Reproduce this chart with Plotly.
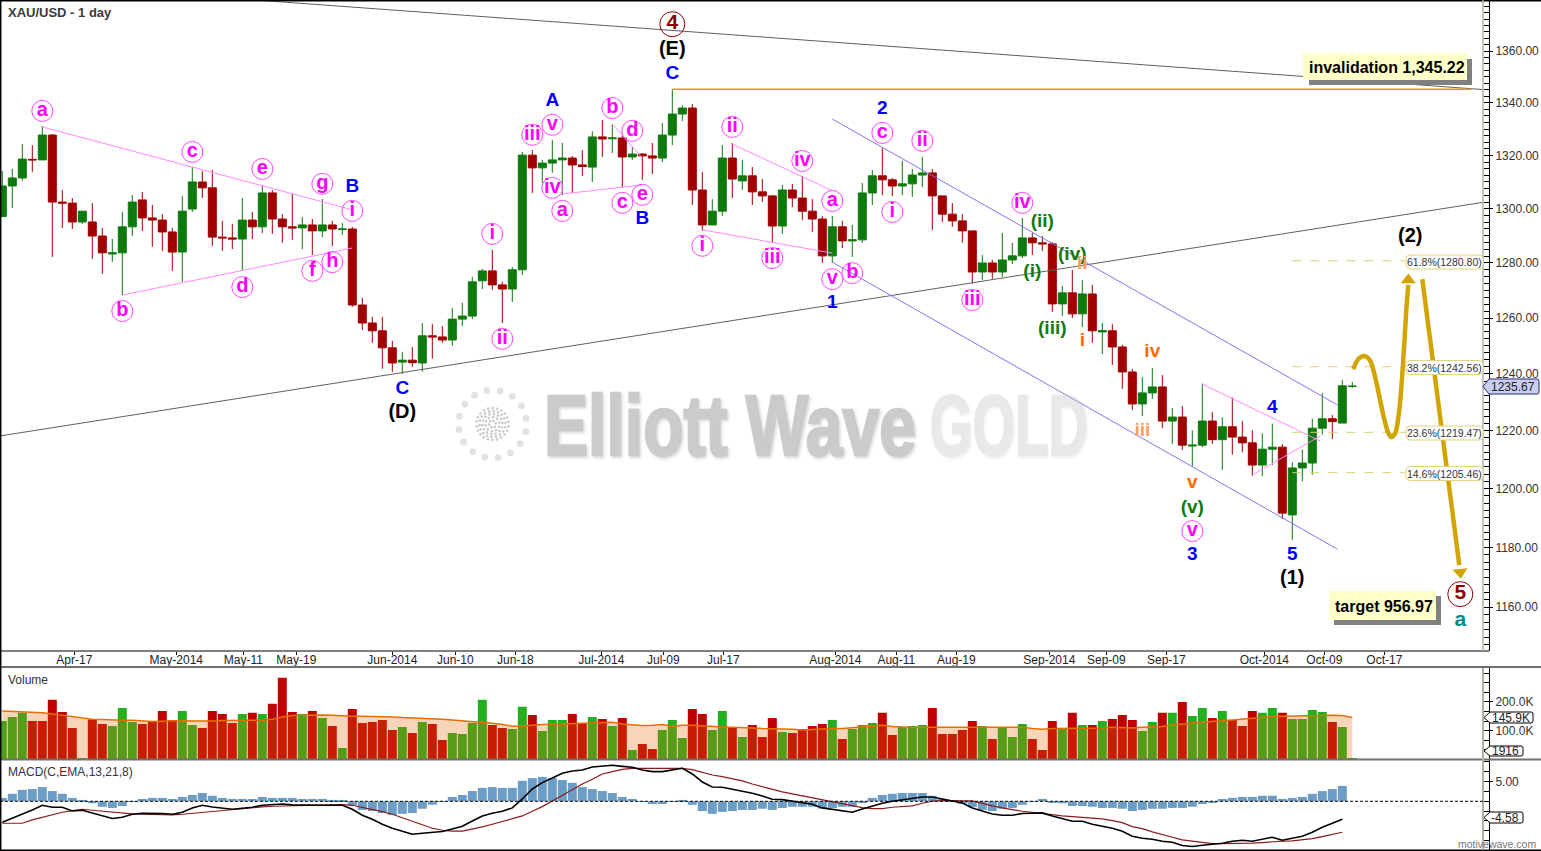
import math
import plotly.graph_objects as go

W, H = 1541, 851

open_ = [1297.1,1308.5,1311.5,1318.5,1318.3,1327.7,1302.5,1302.1,1295.1,1295.1,1289.9,1283.3,1283.7,1293.3,1303.3,1296.6,1295.8,1291.4,1284.0,1299.9,
1310.0,1307.8,1289.5,1289.2,1288.8,1295.8,1293.3,1305.9,1296.2,1293.3,1292.9,1294.0,1291.8,1294.0,1292.3,1292.5,1264.7,1258.2,1255.4,1249.3,
1244.2,1244.9,1243.9,1253.6,1253.2,1252.1,1259.6,1260.7,1273.5,1277.1,1272.0,1270.5,1277.5,1320.1,1315.3,1317.1,1318.3,1319.0,1316.4,1315.6,
1327.0,1326.3,1326.6,1319.4,1320.5,1319.8,1319.0,1327.7,1335.7,1338.0,1307.0,1294.0,1299.1,1319.0,1310.4,1312.3,1306.3,1304.8,1293.6,1307.0,
1304.0,1299.1,1296.2,1282.6,1293.3,1288.1,1288.5,1305.9,1312.3,1310.8,1308.5,1309.3,1312.6,1313.4,1304.8,1298.0,1295.5,1291.8,1276.7,1280.0,
1276.7,1281.1,1282.6,1289.2,1287.4,1287.0,1265.1,1269.1,1261.5,1268.7,1255.0,1255.4,1249.6,1240.7,1229.4,1233.3,1235.4,1223.4,1224.8,1214.7,
1215.0,1223.4,1216.9,1221.4,1217.8,1215.8,1208.1,1213.6,1214.3,1191.0,1207.1,1208.8,1220.9,1224.2,1222.7,1235.6]
high = [1314.1,1314.9,1324.3,1323.9,1331.1,1328.1,1307.0,1304.0,1299.1,1302.1,1292.9,1288.8,1298.8,1305.1,1306.3,1301.4,1298.0,1292.9,1304.8,1315.6,
1314.1,1314.5,1295.5,1294.4,1304.0,1298.8,1308.9,1307.0,1298.0,1305.5,1296.9,1296.2,1303.6,1295.5,1294.7,1293.3,1267.3,1260.4,1260.4,1251.8,
1247.9,1249.6,1258.2,1257.9,1257.1,1263.6,1265.5,1274.9,1277.8,1284.8,1273.1,1278.5,1321.3,1322.0,1318.3,1325.8,1324.7,1319.8,1322.0,1329.2,
1333.4,1331.9,1327.3,1323.2,1320.9,1324.7,1332.3,1345.22,1339.1,1339.5,1313.8,1303.6,1323.9,1324.7,1318.3,1315.6,1311.1,1305.1,1308.9,1309.3,
1312.3,1303.6,1297.3,1297.3,1295.5,1294.0,1309.6,1314.5,1322.8,1311.5,1317.9,1314.9,1319.4,1314.9,1304.8,1302.1,1298.0,1291.8,1282.9,1281.1,
1291.0,1287.4,1296.6,1291.0,1289.9,1287.7,1271.6,1277.4,1273.8,1272.0,1258.2,1257.9,1250.4,1241.8,1238.9,1242.1,1239.6,1228.0,1228.7,1220.2,
1236.6,1226.5,1224.7,1231.7,1223.4,1220.2,1219.1,1222.5,1215.4,1209.1,1213.5,1224.2,1233.2,1225.5,1237.9,1237.2]
low = [1297.1,1300.3,1310.4,1313.8,1318.3,1282.2,1292.9,1292.5,1294.4,1281.5,1276.0,1280.4,1268.2,1289.9,1291.8,1285.9,1284.4,1277.1,1273.1,1298.8,
1304.0,1286.2,1284.4,1285.1,1277.2,1288.8,1291.0,1290.7,1287.4,1288.5,1285.1,1282.9,1289.5,1286.2,1290.3,1264.0,1255.7,1251.1,1241.8,1240.7,
1240.0,1242.5,1240.8,1245.4,1251.1,1250.0,1257.1,1259.6,1270.5,1270.2,1258.2,1265.8,1275.6,1305.9,1309.6,1313.4,1305.1,1305.8,1312.3,1310.0,
1319.4,1320.9,1308.1,1318.3,1310.8,1313.0,1317.5,1323.9,1333.0,1301.4,1291.8,1294.0,1297.3,1304.0,1307.0,1301.4,1302.5,1287.4,1290.7,1300.6,
1295.8,1291.4,1280.0,1280.0,1285.5,1282.2,1287.4,1301.4,1305.1,1304.8,1305.1,1304.4,1308.1,1292.1,1295.1,1293.3,1287.4,1272.4,1273.8,1274.2,
1274.9,1279.6,1281.8,1282.9,1284.4,1262.2,1260.7,1260.0,1256.8,1251.1,1247.1,1243.2,1234.7,1227.3,1225.2,1231.2,1220.9,1215.4,1213.3,1207.8,
1214.3,1215.4,1206.4,1211.7,1212.5,1204.4,1204.3,1208.1,1189.6,1182.5,1202.5,1204.8,1218.7,1217.1,1222.7,1235.1]
close = [1308.5,1311.5,1318.6,1318.3,1327.7,1302.5,1302.1,1295.1,1299.1,1289.9,1283.7,1283.7,1293.3,1302.5,1296.6,1295.8,1291.4,1284.0,1299.1,1310.0,
1307.8,1289.5,1289.2,1288.8,1295.8,1293.3,1305.9,1296.2,1293.3,1292.9,1294.0,1291.8,1294.0,1292.5,1292.5,1264.7,1258.2,1255.4,1249.3,1243.9,
1244.9,1244.0,1253.6,1253.2,1252.1,1259.6,1260.7,1273.1,1277.1,1272.0,1270.5,1277.5,1320.1,1315.3,1317.1,1318.3,1319.0,1316.4,1315.8,1327.0,
1326.2,1326.6,1319.4,1320.5,1319.8,1319.0,1327.7,1335.7,1338.0,1307.0,1294.0,1299.1,1319.0,1311.1,1312.3,1306.3,1304.8,1293.6,1307.0,1304.0,
1299.1,1296.2,1282.6,1293.3,1288.1,1288.5,1305.9,1312.3,1310.8,1308.5,1309.3,1312.6,1313.4,1304.8,1298.0,1295.5,1291.8,1276.7,1280.0,1276.7,
1281.1,1282.6,1289.2,1287.4,1287.0,1265.1,1269.1,1261.5,1268.7,1255.4,1255.4,1249.6,1240.7,1229.4,1233.3,1235.4,1223.4,1224.8,1215.0,1215.0,
1223.4,1216.9,1221.4,1217.8,1215.8,1208.1,1213.6,1214.3,1191.6,1207.1,1208.8,1220.9,1224.2,1223.2,1235.8,1235.67]

volume_k = [133.7,147.7,161.7,133.7,133.7,207.0,165.1,109.3,4.7,138.4,123.3,116.3,179.1,130.3,123.3,131.4,168.6,137.2,168.6,119.8,
109.3,168.6,158.2,126.8,158.2,161.7,158.2,193.1,283.8,165.1,158.2,168.6,144.2,116.3,39.5,175.6,126.8,130.3,137.2,102.3,
112.8,91.9,130.3,123.3,67.5,91.9,88.4,126.8,207.0,119.8,109.3,105.8,182.6,154.7,98.9,137.2,137.2,158.2,126.8,147.7,
140.7,116.3,144.2,32.6,53.5,36.1,102.3,137.2,74.4,175.6,158.2,102.3,168.6,112.8,77.9,119.8,77.9,144.2,95.4,91.9,
105.8,116.3,123.3,137.2,70.9,105.8,119.8,126.8,161.7,84.9,112.8,116.3,119.8,179.1,88.4,88.4,102.3,133.7,116.3,70.9,
112.8,77.9,123.3,70.9,32.6,133.7,105.8,161.7,119.8,119.8,133.7,140.7,154.7,137.2,98.9,130.3,161.7,161.7,200.0,151.2,
179.1,144.2,168.6,137.2,116.3,168.6,161.7,179.1,161.7,140.7,140.7,172.1,165.1,130.3,112.8,1.9]
volume_up = "GGGRRRRRGRRGGGRRRRGGRRRRGRGRRRGRGRGRRRRRGRGRRGGGGRRGGRGGGRRGRGRGRRGGGRRGGRGRRRGRRRRGRGGGRRGGGRRRRRGRGGGRRRGRGRGRRRGGRGRGGRGRRRGGRGGGGRGG"
volume_ma_k = [168.6,167.5,165.1,164.0,161.7,158.2,153.5,148.9,144.2,139.6,138.4,136.1,136.1,136.1,133.7,131.4,132.6,134.9,134.9,133.7,
132.6,133.7,134.9,134.9,134.9,134.9,136.1,139.6,147.7,152.4,153.5,154.7,154.7,153.5,151.2,150.0,150.0,150.0,148.9,147.7,
145.4,144.2,144.2,143.0,139.6,137.2,134.9,132.6,129.1,125.6,121.0,115.1,116.3,119.8,121.0,122.1,123.3,123.3,125.6,126.8,
127.9,129.1,123.3,119.8,117.5,118.6,121.0,115.1,118.6,118.6,117.5,115.1,112.8,111.6,111.6,109.3,107.0,107.0,107.0,104.7,
102.3,104.7,107.0,107.0,107.0,109.3,114.0,116.3,118.6,114.0,111.6,110.5,111.6,111.6,111.6,111.6,111.6,111.6,111.6,111.6,
111.6,111.6,111.6,107.0,104.7,107.0,107.0,107.0,107.0,107.0,109.3,111.6,110.5,109.3,111.6,111.6,114.0,119.8,123.3,125.6,
129.1,132.6,134.9,137.2,140.7,144.2,146.5,148.9,150.0,151.2,151.2,152.4,152.4,153.5,152.4,145.9]

macd_hist = [0.85,1.9,2.9,3.1,3.6,2.6,1.9,0.85,0.34,-0.5,-1.4,-1.7,-1.2,0.03,0.6,0.85,0.85,0.6,1.1,1.6,
2.1,1.4,0.85,0.6,0.6,0.6,1.1,0.85,0.85,0.85,0.6,0.6,0.6,0.34,0.34,-1.0,-2.2,-2.5,-3.0,-3.5,
-3.2,-3.0,-1.9,-0.9,0.03,1.1,1.6,2.6,3.4,3.6,3.4,3.4,5.2,5.9,6.2,5.9,5.4,4.7,3.6,3.1,
2.6,2.1,1.1,0.6,0.03,-0.7,-0.7,0.03,0.34,-0.9,-2.5,-3.2,-2.7,-2.5,-2.2,-2.2,-1.9,-2.2,-1.7,-1.4,
-1.4,-1.4,-1.9,-1.7,-1.4,-1.4,-0.25,0.85,1.6,1.9,2.1,2.1,2.1,1.4,0.6,0.03,-0.7,-1.5,-2.2,-2.5,
-1.9,-1.7,-0.9,0.03,0.6,-0.25,-0.5,-1.2,-1.2,-1.4,-1.7,-1.7,-1.9,-2.5,-2.2,-1.9,-1.9,-1.7,-1.7,-1.4,
-0.7,-0.25,0.6,0.85,1.1,1.1,1.4,1.4,0.6,0.85,1.1,1.9,2.6,3.1,3.9]
macd_line = [-5.34,-4.32,-3.30,-2.20,-1.02,-1.52,-1.52,-2.46,-2.29,-2.96,-3.73,-4.40,-4.07,-3.30,-3.05,-3.05,-3.13,-3.30,-2.80,-1.69,
-1.02,-1.44,-1.78,-2.03,-1.78,-1.52,-1.02,-0.76,-0.68,-0.93,-1.02,-1.02,-1.02,-1.02,-1.02,-2.03,-3.56,-4.57,-5.84,-6.86,
-7.62,-8.39,-8.13,-7.96,-7.71,-7.03,-6.35,-5.00,-3.73,-3.05,-2.54,-1.69,0.59,3.13,4.74,5.93,7.11,7.71,7.96,8.72,
8.98,9.15,8.89,8.64,7.96,7.54,7.54,8.05,8.39,6.95,4.91,3.64,3.56,3.05,2.63,2.03,1.36,0.51,0.42,0.08,
-0.42,-0.76,-1.69,-2.03,-2.46,-2.80,-1.95,-1.19,-0.51,0.0,0.34,0.68,1.10,1.10,0.59,0.08,-0.42,-1.69,-2.46,-3.22,
-3.56,-3.56,-3.13,-2.96,-2.96,-3.73,-4.32,-5.08,-5.08,-5.84,-6.35,-6.86,-7.62,-8.89,-9.40,-9.66,-10.16,-10.42,-11.27,-11.52,
-11.18,-10.93,-10.67,-10.16,-9.91,-10.16,-9.66,-9.15,-9.91,-9.40,-8.89,-7.88,-6.61,-5.59,-4.58]
macd_signal = [-5.59,-5.59,-5.59,-4.74,-4.07,-3.47,-2.80,-2.37,-2.03,-2.29,-2.54,-2.80,-3.05,-3.22,-3.30,-3.39,-3.47,-3.47,-3.30,-3.05,
-2.80,-2.54,-2.29,-2.03,-1.86,-1.61,-1.44,-1.27,-1.19,-1.19,-1.10,-1.02,-1.02,-0.93,-0.85,-1.02,-1.52,-2.03,-2.63,-3.30,
-4.15,-5.00,-6.01,-6.86,-7.37,-7.62,-7.62,-7.11,-6.52,-5.84,-5.17,-4.49,-3.73,-2.54,-1.36,0.08,1.52,3.05,4.40,5.59,
6.95,7.54,8.13,8.39,8.47,8.39,8.39,8.39,8.39,8.05,7.37,6.69,6.27,5.76,5.17,4.40,3.73,2.96,2.37,1.86,
1.36,0.85,0.34,-0.17,-0.68,-1.19,-1.61,-1.86,-1.86,-1.52,-1.36,-1.19,-0.51,0.0,0.25,0.08,0.08,0.08,-0.59,-1.19,
-1.69,-2.20,-2.54,-2.80,-3.13,-3.47,-3.73,-3.90,-4.07,-4.32,-4.49,-4.91,-5.42,-6.44,-6.95,-7.79,-8.39,-9.15,-9.83,-10.16,
-10.50,-10.76,-10.76,-10.76,-10.76,-10.67,-10.50,-10.25,-10.16,-10.08,-9.83,-9.49,-8.98,-8.47,-7.88]

date_ticks = ["Apr-17","May-2014","May-11","May-19","Jun-2014","Jun-10","Jun-18","Jul-2014","Jul-09","Jul-17","Aug-2014","Aug-11","Aug-19","Sep-2014","Sep-09","Sep-17","Oct-2014","Oct-09","Oct-17"]
date_tick_pos = [7.2,17.4,24.1,29.4,39.0,45.3,51.3,59.9,66.1,72.1,83.3,89.4,95.4,104.7,110.4,116.4,126.2,132.2,138.2]

bars = list(range(len(open_)))
assert all(len(a) == 136 for a in (open_, high, low, close, volume_k, volume_ma_k))
assert len(volume_up) == 136, len(volume_up)
assert all(len(a) == 135 for a in (macd_hist, macd_line, macd_signal))

# wave labels: text, bar, price
circled_labels = [("a",4,1336.9),("c",19,1321.3),("e",26,1314.9),("g",32,1309.3),("i",35,1299.2),("b",12,1262.5),("d",24,1271.2),("f",31,1277.1),("h",33,1280.3),
("i",49,1290.7),("ii",50,1252.5),("iii",53,1327.8),("v",55,1331.6),("iv",55,1307.8),("a",56,1299.2),("b",61,1338.0),("d",63,1329.3),("c",62,1302.2),("e",64,1305.2),
("ii",73,1330.8),("i",70,1286.3),("iii",77,1281.8),("iv",80,1317.9),("a",83,1302.9),("v",83,1274.1),("b",85,1276.3),("c",88,1328.5),("ii",92,1325.5),("i",89,1298.8),
("iii",97,1266.5),("iv",102,1302.2),("v",119,1185.5)]
blue_labels = [("B",35,1308.2),("C",40,1234.7),("A",55,1340.7),("B",64,1296.2),("C",67,1351.1),("1",83,1265.4),("2",88,1337.6),("3",119,1177.4),("4",127,1228.0),("5",129,1177.4)]
black_labels = [("(D)",40,1226.2),("(E)",67,1360.4),("(1)",129,1169.5),("(2)",140.8,1289.6)]
green_labels = [("(ii)",104,1295.1),("(i)",103,1276.7),("(iv)",107,1282.9),("(iii)",105,1256.0),("(v)",119,1193.3)]
orange_labels = [("i",108,1251.8),("iv",115,1247.8),("v",119,1201.9)]
pale_orange_labels = [("ii",108,1279.6),("iii",114,1219.9)]
major_labels = [("4",67,1370.5),("5",145.8,1164.3)]

# trend lines: start bar, start price, end bar, end price
gray_lines = [(25.3,1380.0,148.07,1345.1),(-0.23,1218.2,148.07,1302.4)]
pink_lines = [(4,1330.8,35,1299.6),(12,1268.3,35,1285.5),(61,1331.9,64,1319.0),(56,1305.5,64,1308.9),
(73,1324.3,83,1306.7),(70,1292.2,83,1283.6),(120,1236.4,131.8,1216.4),(125,1204.7,131.8,1218.2)]
blue_lines = [(83,1333.8,133.5,1229.1),(83,1280.3,133.5,1179.4)]
invalidation_price = 1345.22
fib_levels = [("61.8%",1280.80),("38.2%",1242.56),("23.6%",1219.47),("14.6%",1205.46)]

# forecast path
wave_bars = [135.1,135.6,136.2,136.8,137.4,138.1,138.6,138.9,139.3,139.7,140.1,140.4,140.6]
wave_prices = [1241.7,1245.3,1246.4,1244.6,1237.1,1225.5,1219.2,1217.8,1219.2,1227.3,1245.0,1262.9,1272.0]
drop_bars = [142.0,145.7]
drop_prices = [1274.1,1174.0]

GREEN, RED = "#0e7a0e", "#a00000"
GOLD = "#d2a400"
FONT = "Liberation Sans"
PLOT_R = 1483
AX_X = 1489

def px(x): return x / W
def py(y): return 1 - y / H

fig = go.Figure()

def seg(lines, color, width=1, dash=None):
    for x0, p0, x1, p1 in lines:
        fig.add_trace(go.Scatter(x=[x0, x1], y=[p0, p1], mode="lines", hoverinfo="skip",
                                 line=dict(color=color, width=width, dash=dash), xaxis="x", yaxis="y"))

seg(gray_lines, "#606060", 1)
seg(blue_lines, "#7a7af0", 1)
seg(pink_lines, "#ff88ff", 1)

fig.add_trace(go.Candlestick(x=bars, open=open_, high=high, low=low, close=close, whiskerwidth=0,
    increasing=dict(line=dict(color=GREEN, width=1), fillcolor=GREEN),
    decreasing=dict(line=dict(color=RED, width=1), fillcolor=RED),
    xaxis="x", yaxis="y", hoverinfo="skip"))

seg([(67, invalidation_price, 146.9, invalidation_price)], GOLD, 1.5)
for name, lvl in fib_levels:
    seg([(129, lvl, 140.3, lvl)], "#d9cf72", 1, "dash")

fig.add_trace(go.Scatter(x=wave_bars, y=wave_prices, mode="lines", line=dict(color=GOLD, width=4.5, shape="spline", smoothing=0.8),
                         hoverinfo="skip", xaxis="x", yaxis="y"))
fig.add_trace(go.Scatter(x=drop_bars, y=drop_prices, mode="lines", line=dict(color=GOLD, width=4.5), hoverinfo="skip", xaxis="x", yaxis="y"))
fig.add_trace(go.Scatter(x=[140.6], y=[1273.8], mode="markers", marker=dict(symbol="triangle-up", size=13, color=GOLD), hoverinfo="skip", xaxis="x", yaxis="y"))
fig.add_trace(go.Scatter(x=[145.8], y=[1171.6], mode="markers", marker=dict(symbol="triangle-down", size=13, color=GOLD, angle=-6), hoverinfo="skip", xaxis="x", yaxis="y"))

def labels(items, color, size, marker=None):
    kw = dict(mode="text")
    if marker:
        kw = dict(mode="markers+text", marker=marker)
    fig.add_trace(go.Scatter(x=[a[1] for a in items], y=[a[2] for a in items], text=["<b>%s</b>" % a[0] for a in items],
                             textposition="middle center", textfont=dict(family=FONT, size=size, color=color),
                             hoverinfo="skip", xaxis="x", yaxis="y", **kw))

labels(circled_labels, "#ff00ff", 20, dict(symbol="circle-open", size=21, color="#ff44ff", line=dict(width=1, color="#ff44ff")))
labels(major_labels, "#8b0000", 21, dict(symbol="circle-open", size=25, color="#8b0000", line=dict(width=1, color="#8b0000")))
labels(blue_labels, "#0000ff", 19)
labels(black_labels, "#000000", 20)
labels(green_labels, "#0e7a0e", 19)
labels(orange_labels, "#ff6a00", 19)
labels(pale_orange_labels, "#ff9c5c", 19)
labels([("a",145.8,1155.4)], "#008b8b", 21)

# volume pane
vol_colors = ["#22b01e" if c == "G" else "#c00000" for c in volume_up]
fig.add_trace(go.Bar(x=bars, y=[v * 1000 for v in volume_k], width=0.9, marker=dict(color=vol_colors, line=dict(width=0)),
                     hoverinfo="skip", xaxis="x2", yaxis="y2"))
fig.add_trace(go.Scatter(x=bars, y=[v * 1000 for v in volume_ma_k], mode="lines", fill="tozeroy", fillcolor="rgba(226,105,12,0.28)",
                         line=dict(color="#e66f00", width=1.5), hoverinfo="skip", xaxis="x2", yaxis="y2"))
# macd pane
fig.add_trace(go.Bar(x=bars[:135], y=macd_hist, width=0.9, marker=dict(color="#6c9dc6", line=dict(width=0)), hoverinfo="skip", xaxis="x3", yaxis="y3"))
fig.add_trace(go.Scatter(x=bars[:135], y=macd_signal, mode="lines", line=dict(color="#8b1a1a", width=1.2), hoverinfo="skip", xaxis="x3", yaxis="y3"))
fig.add_trace(go.Scatter(x=bars[:135], y=macd_line, mode="lines", line=dict(color="#000000", width=1.6), hoverinfo="skip", xaxis="x3", yaxis="y3"))

shapes = []
def rect(x0, y0, x1, y1, fill, line=None, layer="below"):
    shapes.append(dict(type="rect", xref="paper", yref="paper", x0=px(x0), x1=px(x1), y0=py(y1), y1=py(y0),
                       fillcolor=fill, line=dict(color=line or fill, width=1 if line else 0), layer=layer))
def hline(x0, x1, y, color, width=1, dash=None, layer="above"):
    shapes.append(dict(type="line", xref="paper", yref="paper", x0=px(x0), x1=px(x1), y0=py(y), y1=py(y),
                       line=dict(color=color, width=width, dash=dash), layer=layer))
def vline(x, y0, y1, color, width=1):
    shapes.append(dict(type="line", xref="paper", yref="paper", x0=px(x), x1=px(x), y0=py(y0), y1=py(y1),
                       line=dict(color=color, width=width), layer="above"))
def rpath(x0, y0, x1, y1, r, fill, line, layer="above"):
    X = px
    Y = py
    p = (f"M {X(x0+r)} {Y(y0)} L {X(x1-r)} {Y(y0)} Q {X(x1)} {Y(y0)} {X(x1)} {Y(y0+r)} L {X(x1)} {Y(y1-r)} Q {X(x1)} {Y(y1)} {X(x1-r)} {Y(y1)} "
         f"L {X(x0+r)} {Y(y1)} Q {X(x0)} {Y(y1)} {X(x0)} {Y(y1-r)} L {X(x0)} {Y(y0+r)} Q {X(x0)} {Y(y0)} {X(x0+r)} {Y(y0)} Z")
    shapes.append(dict(type="path", xref="paper", yref="paper", path=p, fillcolor=fill, line=dict(color=line, width=1), layer=layer))
def flag(x0, y0, x1, y1, fill, line):
    m = (y0 + y1) / 2
    r = 2
    p = (f"M {px(x0)} {py(m)} L {px(x0+6)} {py(y0)} L {px(x1-r)} {py(y0)} Q {px(x1)} {py(y0)} {px(x1)} {py(y0+r)} L {px(x1)} {py(y1-r)} "
         f"Q {px(x1)} {py(y1)} {px(x1-r)} {py(y1)} L {px(x0+6)} {py(y1)} Z")
    shapes.append(dict(type="path", xref="paper", yref="paper", path=p, fillcolor=fill, line=dict(color=line, width=1), layer="above"))

# frame
hline(0, W, 0.7, "#000000", 1.5)
hline(0, AX_X, 651, "#000000", 1)
hline(0, W, 667, "#707070", 2)
hline(0, W, 759.5, "#707070", 2)
hline(0, W, 850.3, "#000000", 1.5)
vline(0.7, 0, 851, "#000000", 1.5)
vline(PLOT_R, 0, 651, "#b0b0a4", 1.5)
vline(PLOT_R, 668, 850, "#b0b0a4", 2)
hline(0, PLOT_R, 801.3, "#000000", 1, "3px,2px")

# boxes
rect(1309, 59, 1472, 85, "#808080", layer="above")
rect(1303, 53, 1467, 80, "#ffffc8", layer="above")
rect(1334, 596, 1441, 625, "#808080", layer="above")
rect(1329, 591, 1436, 620, "#ffffc8", layer="above")

# logo dots
cx, cy = 492.5, 424
for r, n, s, col in [(34, 16, 3.4, "#e2e2e2"), (16, 22, 1.3, "#c8c8c8"), (13, 18, 1.3, "#c8c8c8"), (10, 14, 1.3, "#c8c8c8"), (7, 10, 1.3, "#c8c8c8"), (3.5, 6, 1.3, "#c8c8c8")]:
    for k in range(n):
        a = 2 * math.pi * k / n + math.pi / 2 + r
        x, y = cx + r * math.cos(a), cy + r * math.sin(a)
        shapes.append(dict(type="circle", xref="paper", yref="paper", x0=px(x - s), x1=px(x + s), y0=py(y + s), y1=py(y - s),
                           fillcolor=col, line=dict(width=0), layer="below"))

annotations = []
def note(x, y, text, size=12, color="#333333", family=FONT, anchor="left", shadow=None, opacity=None):
    font = dict(family=family, size=size, color=color)
    if shadow:
        font["shadow"] = shadow
    a = dict(xref="paper", yref="paper", x=px(x), y=py(y), text=text, showarrow=False, xanchor=anchor, yanchor="middle",
             font=font, align="left", borderpad=0)
    if opacity is not None:
        a["opacity"] = opacity
    annotations.append(a)

note(7, 13, "<b>XAU/USD - 1 day</b>", 13, "#3a3a3a")
note(7, 680, "Volume", 12)
note(7, 772, "MACD(C,EMA,13,21,8)", 12)
note(1308, 67, "<b>invalidation 1,345.22</b>", 16, "#000000")
note(1334, 606, "<b>target 956.97</b>", 16, "#000000")
note(783, 425.5, "<b>Elliott Wave</b>", 85, "rgb(195,195,195)", FONT, "center", "2px 2px 3px rgba(190,190,190,0.5)", 0.85)
note(1053, 425.5, "<b>GOLD</b>", 85, "rgb(202,202,202)", FONT, "center", "2px 2px 3px rgba(190,190,190,0.4)", 0.4)
note(1537, 844, "motivewave.com", 10.5, "#777777", FONT, "right")

fib_rows = {1280.80: 262, 1242.56: 367.5, 1219.47: 433, 1205.46: 473.5}
for name, lvl in fib_levels:
    yc = fib_rows[lvl]
    rpath(1406, yc - 7, 1483, yc + 7, 4, "#ffffff", "#e0d67a")
    note(1444.5, yc, f"{name}({lvl:.2f})", 10.5, "#333333", FONT, "center")

flag(1483, 379, 1539, 394, "#c9cdf0", "#2a2a70")
note(1513, 386.5, "1235.67", 12, "#222222", FONT, "center")
flag(1484, 712, 1533, 723, "#ffffff", "#000000")
note(1511, 717.5, "145.9K", 12, "#222222", FONT, "center")
flag(1484, 746, 1523, 756, "#ffffff", "#000000")
note(1505.5, 751, "1916", 12, "#222222", FONT, "center")
flag(1484, 812, 1523, 823, "#ffffff", "#000000")
note(1505, 817.5, "-4.58", 12, "#222222", FONT, "center")

xr = [-0.23, 148.07]
xdom = [0, PLOT_R / W]
common_x = dict(range=xr, domain=xdom, showgrid=False, zeroline=False, fixedrange=True)
right = dict(side="right", anchor="free", position=AX_X / W, showgrid=False, zeroline=False, showline=True, linecolor="#000000", linewidth=1,
             ticks="outside", ticklen=3, tickcolor="#000000", tickfont=dict(family=FONT, size=12, color="#333333"), fixedrange=True)

fig.update_layout(
    width=W, height=H, margin=dict(l=0, r=0, t=0, b=0), paper_bgcolor="#ffffff", plot_bgcolor="#ffffff",
    showlegend=False, boxgap=0.2, boxgroupgap=0, barmode="overlay", dragmode=False,
    xaxis=dict(**common_x, type="linear", anchor="y", rangeslider=dict(visible=False), tickmode="array", tickvals=date_tick_pos, ticktext=date_ticks,
               ticks="outside", ticklen=3, tickcolor="#000000", ticklabelstandoff=-5, tickfont=dict(family=FONT, size=12, color="#222222")),
    xaxis2=dict(**common_x, anchor="y2", showticklabels=False),
    xaxis3=dict(**common_x, anchor="y3", showticklabels=False),
    yaxis=dict(**right, type="log", range=[3.05900, 3.13988], domain=[py(651), 1], tick0=1160, dtick="L20", tickformat=".2f",
               minor=dict(dtick="L2.5", ticks="inside", ticklen=5, tickcolor="#000000")),
    yaxis2=dict(**right, range=[0, 318000], domain=[py(759.3), py(668)], tickmode="array", tickvals=[100000, 200000], ticktext=["100.0K", "200.0K"],
                minor=dict(tickmode="linear", tick0=0, dtick=33333, ticks="inside", ticklen=5, tickcolor="#000000")),
    yaxis3=dict(**right, range=[-12.4, 10.5], domain=[py(850), py(760)], tickmode="array", tickvals=[5], ticktext=["5.00"],
                minor=dict(tickmode="linear", tick0=0, dtick=2.5, ticks="inside", ticklen=5, tickcolor="#000000")),
    shapes=shapes, annotations=annotations,
)

squeeze = """
document.body.style.margin='0';document.body.style.overflow='hidden';
function squeezeMark(){
  document.querySelectorAll('.annotation-text').forEach(function(t){
    var s=t.textContent.trim(), w=null;
    if(s==='Elliott Wave') w=372;
    if(s==='GOLD') w=158;
    if(w){t.setAttribute('textLength',w);t.setAttribute('lengthAdjust','spacingAndGlyphs');
      t.style.stroke=t.style.fill;t.style.strokeWidth='2.5px';}
  });
}
squeezeMark();setTimeout(squeezeMark,100);setTimeout(squeezeMark,500);
"""
fig.write_html("out.html", config={"displayModeBar": False}, post_script=squeeze)
